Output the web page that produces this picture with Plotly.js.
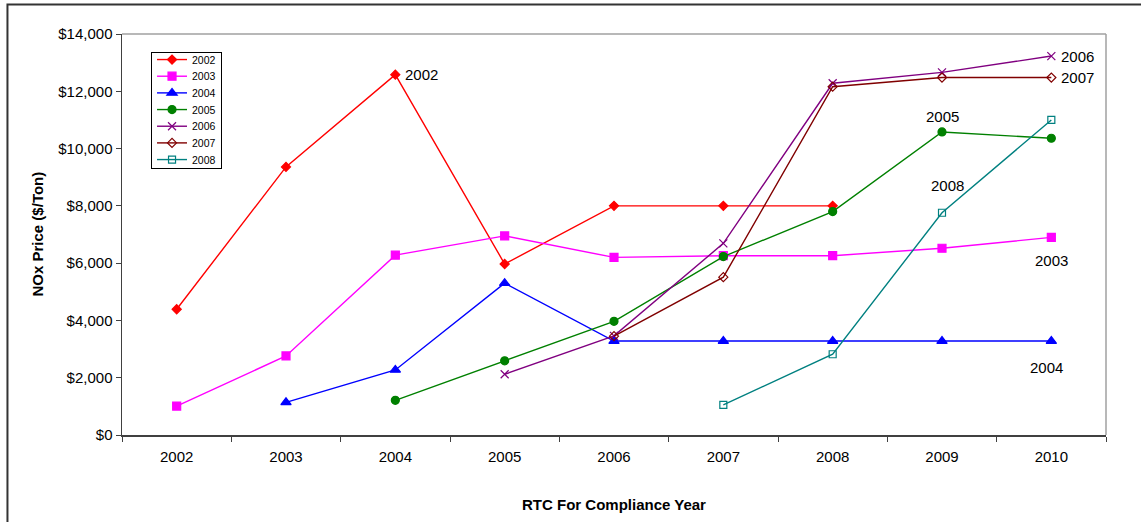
<!DOCTYPE html>
<html>
<head>
<meta charset="utf-8">
<script src="https://cdn.plot.ly/plotly-3.0.1.min.js"></script>
<style>
  html, body { margin: 0; padding: 0; background: #ffffff; }
  #chart { width: 1141px; height: 522px; }
</style>
</head>
<body>
<div id="chart"></div>
<script>
// Compliance years on the horizontal axis
const years = ['2002', '2003', '2004', '2005', '2006', '2007', '2008', '2009', '2010'];

// RTC vintage series: first compliance year traded and NOx price ($/ton)
const years2002 = ['2002', '2003', '2004', '2005', '2006', '2007', '2008'];
const price2002 = [4390, 9360, 12580, 5970, 8000, 8000, 8000];

const years2003 = ['2002', '2003', '2004', '2005', '2006', '2007', '2008', '2009', '2010'];
const price2003 = [1010, 2760, 6280, 6950, 6200, 6260, 6260, 6520, 6900];

const years2004 = ['2003', '2004', '2005', '2006', '2007', '2008', '2009', '2010'];
const price2004 = [1140, 2270, 5300, 3280, 3280, 3280, 3280, 3280];

const years2005 = ['2004', '2005', '2006', '2007', '2008', '2009', '2010'];
const price2005 = [1210, 2590, 3970, 6230, 7800, 10580, 10360];

const years2006 = ['2005', '2006', '2007', '2008', '2009', '2010'];
const price2006 = [2120, 3460, 6690, 12280, 12660, 13230];

const years2007 = ['2006', '2007', '2008', '2009', '2010'];
const price2007 = [3450, 5510, 12160, 12480, 12480];

const years2008 = ['2007', '2008', '2009', '2010'];
const price2008 = [1050, 2820, 7760, 11000];

const seriesNames = ['2002', '2003', '2004', '2005', '2006', '2007', '2008'];

const FONT = 'Liberation Sans, Arial, sans-serif';
const TEXT_SIZE = 15;

function series(name, xs, ys, color, symbol, size, lineWidth) {
  return {
    type: 'scatter',
    mode: 'lines+markers',
    name: name,
    x: xs,
    y: ys,
    line: { color: color, width: lineWidth },
    marker: { color: color, symbol: symbol, size: size, line: { color: color, width: 1.2 } },
    hoverinfo: 'x+y+name'
  };
}

const traces = [
  series(seriesNames[0], years2002, price2002, '#ff0000', 'diamond', 7, 1.4),
  series(seriesNames[1], years2003, price2003, '#ff00ff', 'square', 8, 1.4),
  series(seriesNames[2], years2004, price2004, '#0000ff', 'triangle-up', 9, 1.4),
  series(seriesNames[3], years2005, price2005, '#008000', 'circle', 8, 1.4),
  series(seriesNames[4], years2006, price2006, '#800080', 'x-thin-open', 8, 1.4),
  series(seriesNames[5], years2007, price2007, '#800000', 'diamond-open', 7, 1.4),
  series(seriesNames[6], years2008, price2008, '#008080', 'square-open', 7, 1.4)
];

// Series labels placed next to chosen points of each line
function tag(text, xs, ys, idx, opts) {
  return Object.assign({
    text: text,
    x: years.indexOf(xs[idx]),
    y: ys[idx],
    xref: 'x', yref: 'y',
    showarrow: false,
    font: { family: FONT, size: TEXT_SIZE, color: '#000000' }
  }, opts);
}

const labels = [
  tag('2002', years2002, price2002, 2, { xanchor: 'left', yanchor: 'middle', xshift: 8 }),
  tag('2006', years2006, price2006, 5, { xanchor: 'left', yanchor: 'middle', xshift: 8 }),
  tag('2007', years2007, price2007, 4, { xanchor: 'left', yanchor: 'middle', xshift: 8 }),
  tag('2005', years2005, price2005, 5, { xanchor: 'center', yanchor: 'middle', yshift: 15 }),
  tag('2008', years2008, price2008, 2, { xanchor: 'center', yanchor: 'middle', xshift: 5, yshift: 27 }),
  tag('2003', years2003, price2003, 8, { xanchor: 'center', yanchor: 'middle', yshift: -23 }),
  tag('2004', years2004, price2004, 7, { xanchor: 'center', yanchor: 'middle', xshift: -5, yshift: -26 })
];

const axisTitles = [
  {
    text: '<b>NOx Price ($/Ton)</b>',
    xref: 'paper', yref: 'paper', x: 0, y: 0.5,
    xshift: -85, textangle: -90,
    xanchor: 'center', yanchor: 'middle', showarrow: false,
    font: { family: FONT, size: TEXT_SIZE, color: '#000000' }
  },
  {
    text: '<b>RTC For Compliance Year</b>',
    xref: 'paper', yref: 'paper', x: 0.5, y: 0,
    yshift: -69,
    xanchor: 'center', yanchor: 'middle', showarrow: false,
    font: { family: FONT, size: TEXT_SIZE, color: '#000000' }
  }
];

const layout = {
  width: 1141,
  height: 522,
  margin: { l: 122, r: 35, t: 34, b: 87, pad: 0 },
  paper_bgcolor: '#ffffff',
  plot_bgcolor: '#ffffff',
  showlegend: true,
  font: { family: FONT, size: TEXT_SIZE, color: '#000000' },
  xaxis: {
    type: 'category',
    categoryorder: 'array',
    categoryarray: years,
    range: [-0.5, 8.5],
    tickson: 'boundaries',
    ticks: 'outside',
    ticklen: 5,
    tickcolor: '#404040',
    showline: true,
    linecolor: '#404040',
    linewidth: 2,
    showgrid: false,
    zeroline: false,
    ticklabelstandoff: 7,
    tickfont: { family: FONT, size: TEXT_SIZE, color: '#000000' },
    fixedrange: true
  },
  yaxis: {
    range: [0, 14000],
    dtick: 2000,
    tick0: 0,
    tickformat: '$,.0f',
    ticks: 'outside',
    ticklen: 5,
    tickcolor: '#404040',
    showline: true,
    linecolor: '#404040',
    linewidth: 1.5,
    showgrid: false,
    zeroline: false,
    tickfont: { family: FONT, size: TEXT_SIZE, color: '#000000' },
    fixedrange: true
  },
  legend: {
    x: 0.0295, y: 0.955,
    xanchor: 'left', yanchor: 'top',
    bgcolor: '#ffffff',
    bordercolor: '#000000',
    borderwidth: 1,
    font: { family: FONT, size: 10.5, color: '#000000' },
    tracegroupgap: 0,
    itemwidth: 30
  },
  shapes: [
    // light frame on the top and right of the plot area
    { type: 'line', xref: 'paper', yref: 'paper', x0: 0, x1: 1, y0: 1, y1: 1,
      line: { color: '#a0a0a0', width: 1.5 } },
    { type: 'line', xref: 'paper', yref: 'paper', x0: 1, x1: 1, y0: 0, y1: 1,
      line: { color: '#a0a0a0', width: 1.5 } },
    // outer chart border
    { type: 'rect', xref: 'paper', yref: 'paper', x0: -0.1164, x1: 1.2, y0: -0.5, y1: 1.0736,
      line: { color: '#333333', width: 2 }, layer: 'below' }
  ],
  annotations: labels.concat(axisTitles)
};

// Tighter row pitch for the legend entries than Plotly's default
const LEGEND_ROW = 16.67;
const LEGEND_FIRST = 7.5;

Plotly.newPlot('chart', traces, layout, { displayModeBar: false, staticPlot: true }).then(function (gd) {
  const rows = gd.querySelectorAll('.legend .traces');
  rows.forEach(function (el, i) {
    const m = /translate\(\s*([-\d.]+)[ ,]+([-\d.]+)\s*\)/.exec(el.getAttribute('transform') || '');
    const tx = m ? m[1] : 0;
    el.setAttribute('transform', 'translate(' + tx + ',' + (LEGEND_FIRST + i * LEGEND_ROW) + ')');
  });
  const bg = gd.querySelector('.legend .bg');
  if (bg) bg.setAttribute('height', LEGEND_FIRST * 2 + (rows.length - 1) * LEGEND_ROW + 1);
});
</script>
</body>
</html>
